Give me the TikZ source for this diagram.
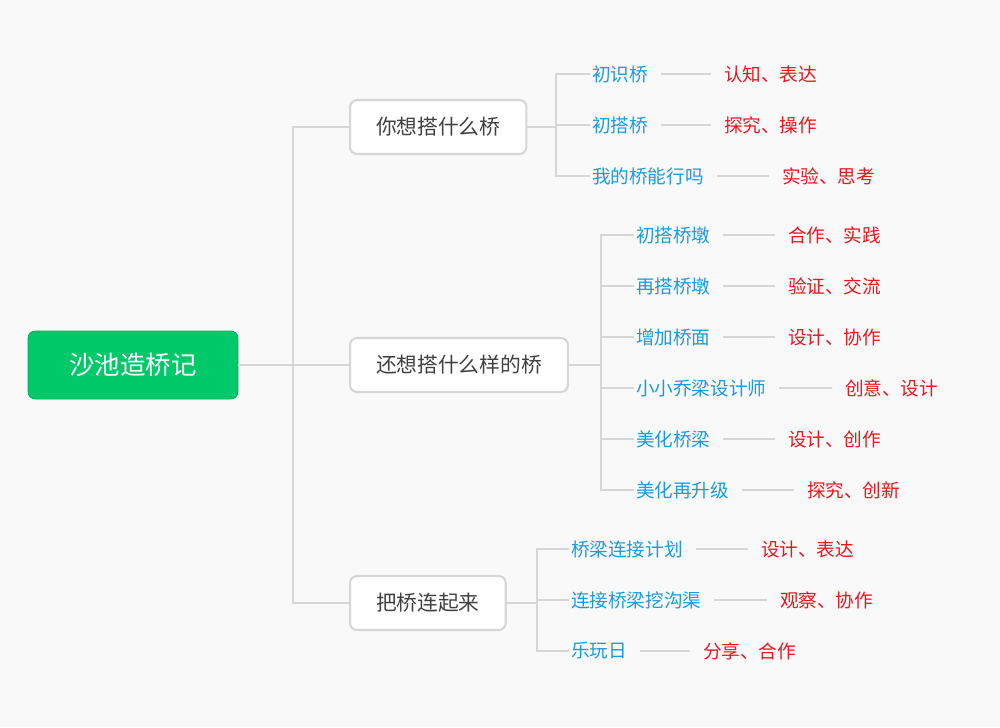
\documentclass[tikz,border=0pt]{standalone}
\usepackage{fontspec}
\newfontfamily\cjk{Noto Sans CJK SC}
\definecolor{bg}{HTML}{F9F9F9}
\definecolor{grn}{HTML}{00C96A}
\definecolor{lnk}{HTML}{D6D6D6}
\definecolor{blu}{HTML}{1A9BE0}
\definecolor{rd}{HTML}{F0141E}
\newcommand{\leaf}[7]{%
 \node[sub] (#1) at (#3,#4) {#5};
 \node[red] (#1r) at (#6,#4) {#7};
 \draw[ln] (#2) |- (#1.west);
 \draw[ln] ([xshift=6pt]#1.east) -- ([xshift=-6pt]#1r.west);}
\begin{document}
\begin{tikzpicture}[x=0.02cm,y=-0.02cm,
 ln/.style={draw=lnk,line width=1.2pt},
 box/.style={draw=lnk,line width=1.2pt,fill=white,rounded corners=4pt,font=\cjk\fontsize{11.8}{13}\selectfont,text=black!75,minimum height=1.08cm,inner xsep=0.52cm},
 sub/.style={anchor=west,inner sep=1pt,text=blu,font=\cjk\fontsize{10.6}{12}\selectfont},
 red/.style={anchor=west,inner sep=1pt,text=rd,font=\cjk\fontsize{10.6}{12}\selectfont}]
\fill[bg] (0,0) rectangle (1000,727);
\node[fill=grn,draw=grn!85!black,rounded corners=4pt,text=white,minimum width=4.2cm,minimum height=1.36cm,font=\cjk\fontsize{14.5}{16}\selectfont] (root) at (133,365) {沙池造桥记};
\coordinate (j0) at (293,365);
\draw[ln] (root.east) -- (j0);
\draw[ln] (349,127) -| (j0) |- (349,603);
\draw[ln] (j0) -- (349,365);
\node[box,anchor=west] (b1) at (349,127) {你想搭什么桥};
\node[box,anchor=west] (b2) at (349,365) {还想搭什么样的桥};
\node[box,anchor=west] (b3) at (349,603) {把桥连起来};
\coordinate (v1) at (556,127);
\draw[ln] (b1.east) -- (v1);
\leaf{a1}{v1}{590}{74}{初识桥}{722}{认知、表达}
\leaf{a2}{v1}{590}{125}{初搭桥}{722}{探究、操作}
\leaf{a3}{v1}{590}{176}{我的桥能行吗}{780}{实验、思考}
\coordinate (v2) at (601,365);
\draw[ln] (b2.east) -- (v2);
\leaf{c1}{v2}{634}{235}{初搭桥墩}{786}{合作、实践}
\leaf{c2}{v2}{634}{286}{再搭桥墩}{786}{验证、交流}
\leaf{c3}{v2}{634}{337}{增加桥面}{786}{设计、协作}
\leaf{c4}{v2}{634}{388}{小小乔梁设计师}{843}{创意、设计}
\leaf{c5}{v2}{634}{439}{美化桥梁}{786}{设计、创作}
\leaf{c6}{v2}{634}{490}{美化再升级}{805}{探究、创新}
\coordinate (v3) at (537,603);
\draw[ln] (b3.east) -- (v3);
\leaf{d1}{v3}{569}{549}{桥梁连接计划}{759}{设计、表达}
\leaf{d2}{v3}{569}{600}{连接桥梁挖沟渠}{778}{观察、协作}
\leaf{d3}{v3}{569}{651}{乐玩日}{701}{分享、合作}
\end{tikzpicture}
\end{document}
